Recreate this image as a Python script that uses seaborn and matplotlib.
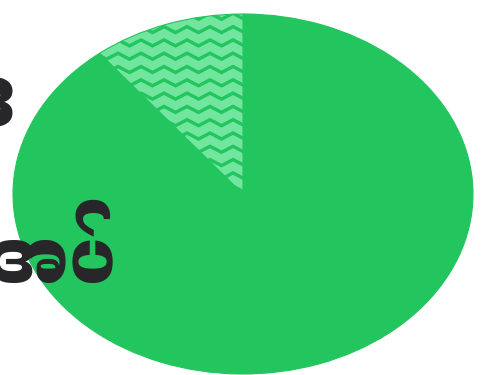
import numpy as np
import matplotlib
matplotlib.use("Agg")
import matplotlib.pyplot as plt
from matplotlib import font_manager
from matplotlib.font_manager import FontProperties
from matplotlib.lines import Line2D
import seaborn as sns

# Slice data (drawn clockwise from 12 o'clock)
labels = ["လွှဲအပ်", "ဆိုင်းငံ့"]
values = [25, 3]
colors = ["#22c55e", "#72e59f"]
line_labels = ["ဝါဒ", "ငွေ လွှဲအပ်"]

sns.set_theme(style="white")
plt.rcParams["font.family"] = ["DejaVu Sans"]


def _weight(entry):
    w = entry.weight
    if isinstance(w, str):
        return 700 if "bold" in w.lower() else 400
    return int(w)


# Bold Myanmar face for the labels
mm_faces = [f for f in font_manager.fontManager.ttflist
            if "Myanmar" in f.name or "Padauk" in f.name]
mm_faces.sort(key=lambda f: (abs(_weight(f) - 700), "UI" in f.name,
                             f.name != "Noto Sans Myanmar"))
if mm_faces:
    top_font = FontProperties(fname=mm_faces[0].fname, size=64)
    bottom_font = FontProperties(fname=mm_faces[0].fname, size=54)
else:
    top_font = FontProperties(family="DejaVu Sans", weight="bold", size=64)
    bottom_font = FontProperties(family="DejaVu Sans", weight="bold", size=54)
TEXT_COLOR = "#27272a"

W, H, DPI = 486, 375, 100
fig = plt.figure(figsize=(W / DPI, H / DPI), dpi=DPI)
ax = fig.add_axes([0, 0, 1, 1])

wedges, _ = ax.pie(
    values,
    colors=colors,
    startangle=90,
    counterclock=False,
    radius=1.0,
    wedgeprops=dict(edgecolor="#22c55e", linewidth=0.8),
)

# Stretched (elliptical) pie filling the canvas
cx_px, cy_px, rx_px, ry_px = 243, 194, 230, 180
ax.set_aspect("auto")
ax.set_xlim(-cx_px / rx_px, (W - cx_px) / rx_px)
ax.set_ylim(-(H - cy_px) / ry_px, cy_px / ry_px)
ax.axis("off")

# Zigzag fill pattern on the small slice, clipped to its wedge
small = wedges[1]
period_px, amp_px, gap_px = 23.0, 6.0, 13.3
xs_px = np.arange(-20, W + 40, period_px / 2)
for row in np.arange(0, H + gap_px, gap_px):
    ys_px = row + np.where(np.arange(len(xs_px)) % 2 == 0, 0.0, amp_px)
    xd = (xs_px - cx_px) / rx_px
    yd = (cy_px - ys_px) / ry_px
    ln = Line2D(xd, yd, color="#22c55e", linewidth=2.4,
                solid_joinstyle="miter", solid_capstyle="butt")
    ax.add_line(ln)
    ln.set_clip_path(small)

# Large labels running off the left edge
ax.text(17 / W, 1 - 126 / H, line_labels[0], transform=ax.transAxes,
        ha="right", va="baseline", fontproperties=top_font,
        color=TEXT_COLOR)
ax.text(116 / W, 1 - 281 / H, line_labels[1], transform=ax.transAxes,
        ha="right", va="baseline", fontproperties=bottom_font,
        color=TEXT_COLOR)

fig.savefig("out.png", dpi=DPI)
